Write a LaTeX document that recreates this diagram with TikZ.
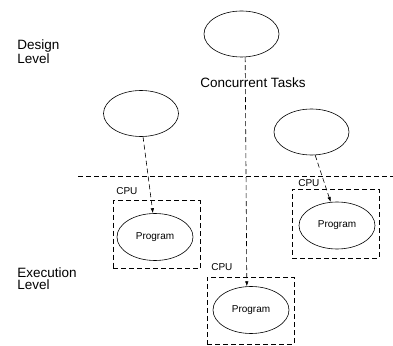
\documentclass[tikz,border=0pt]{standalone}
\usepackage{fontspec}
\setmainfont{Liberation Sans}
\usetikzlibrary{arrows.meta,shapes.geometric}

\begin{document}
\begin{tikzpicture}[
  x=1pt, y=1pt,
  task/.style={draw,ellipse,minimum width=75pt,minimum height=46pt,inner sep=0pt},
  program/.style={task,minimum width=76pt,minimum height=47pt,font=\fontsize{10}{12}\selectfont},
  cpu/.style={draw,dashed,dash pattern=on 5pt off 3pt,minimum width=87pt,minimum height=68pt,inner sep=0pt},
  cpulabel/.style={anchor=west,inner sep=0pt,font=\fontsize{10}{12}\selectfont},
  level/.style={anchor=west,align=left,inner sep=0pt,font=\fontsize{13.5}{12.3}\selectfont},
  mapping/.style={draw,dashed,dash pattern=on 5pt off 3pt,-{Latex[length=5pt,width=3.5pt]}},
  every path/.style={line width=0.6pt}
  ]
	\useasboundingbox (0,0) rectangle (393,345);

	\node[level] (design) at (17,293.5) {Design\\Level};
	\node[level] (execution) at (17,66) {Execution\\Level};
	\node[inner sep=0pt,font=\fontsize{13.5}{16}\selectfont] (tasks) at (253,262) {Concurrent Tasks};

	\node[task] (t1) at (141,231.5) {};
	\node[task] (t2) at (241.5,311) {};
	\node[task] (t3) at (311.5,213) {};

	\coordinate (splitwest) at (78,169);
	\coordinate (spliteast) at (393,169);
	\draw[dashed,dash pattern=on 5pt off 3pt] (splitwest) -- (spliteast);

	\node[cpu] (cpu1) at (156.5,110.3) {};
	\node[cpu,minimum height=69pt] (cpu3) at (335.5,121.5) {};
	\node[cpu,minimum height=67pt] (cpu2) at (250.5,34.5) {};

	\node[cpulabel] (c1) at (116,154) {CPU};
	\node[cpulabel] (c3) at (298,162) {CPU};
	\node[cpulabel] (c2) at (211,78) {CPU};

	\node[program] (p1) at (155,108) {Program};
	\node[program] (p3) at (337,119.5) {Program};
	\node[program] (p2) at (251,35) {Program};

	\draw[mapping] (t1.-85) -- (p1.95);
	\draw[mapping] (t2.-81) -- (p2.100);
	\draw[mapping] (t3.-81) -- (p3.105);
\end{tikzpicture}
\end{document}
